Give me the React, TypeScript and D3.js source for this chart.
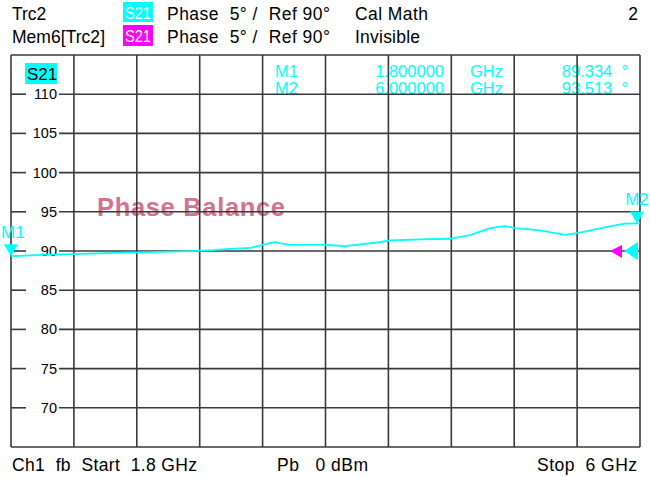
import React from 'react';
import * as d3 from 'd3';

// trace values (S21 phase, Cal Math)
const freqGHz = [1.8, 1.9, 2.0, 2.2, 2.5, 2.8, 3.0, 3.15, 3.26, 3.4, 3.48, 3.56, 3.66, 3.9, 4.03, 4.23, 4.33, 4.53, 4.73, 4.87, 5.0, 5.1, 5.17, 5.33, 5.5, 5.6, 5.77, 5.9, 6.0];
const phaseDeg = [89.334, 89.42, 89.5, 89.6, 89.75, 89.88, 89.98, 90.1, 90.28, 90.41, 90.79, 91.13, 90.79, 90.79, 90.61, 91.05, 91.34, 91.47, 91.56, 92.07, 92.92, 93.17, 92.92, 92.62, 92.07, 92.33, 93.04, 93.48, 93.513];
const yTickLabels = [110, 105, 100, 95, 90, 85, 80, 75, 70];
const markers = [
  { name: 'M1', f: 1.8, v: 89.334, fText: '1.800000', vText: '89.334  °' },
  { name: 'M2', f: 6.0, v: 93.513, fText: '6.000000', vText: '93.513  °' },
];
const refLevel = 90;

const App = () => {
  const width = 650, height = 477;
  const left = 11, right = 640, top = 55, bottom = 447;
  const font = '"Liberation Sans", Arial, sans-serif';
  const gridColor = '#3a3a3a';

  const x = d3.scaleLinear().domain([1.8, 6.0]).range([left, right]);
  const y = d3.scaleLinear().domain([65, 115]).range([bottom, top]);

  const xGrid = d3.range(11).map(i => 1.8 + i * 0.42);
  const yGrid = d3.range(11).map(i => 65 + i * 5);

  const data = freqGHz.map((f, i) => ({ f, v: phaseDeg[i] }));
  const line = d3.line<{ f: number, v: number }>().x(d => x(d.f)).y(d => y(d.v));

  const ry = y(refLevel);

  return (<svg width={width} height={height} style={{ position: 'absolute', left: 0, top: 0, background: '#fff' }} fontFamily={font}>
    <rect x={0} y={0} width={width} height={height} fill="#fff" />
    {/* header */}
    <g fontSize="17.5" fill="#000">
      <text x={12} y={20}>Trc2</text>
      <rect x={123} y={2} width={30} height={20} fill="#00ffff" />
      <text x={125} y={19} fill="#fff" fontSize="16" textLength={26} lengthAdjust="spacingAndGlyphs">S21</text>
      <text x={167} y={20} xmlSpace="preserve" textLength={163}>Phase  5° /  Ref 90°</text>
      <text x={355} y={20} textLength={73}>Cal Math</text>
      <text x={638} y={20} textAnchor="end">2</text>
      <text x={12} y={43} textLength={93}>Mem6[Trc2]</text>
      <rect x={123} y={25} width={30} height={21} fill="#ff00ff" />
      <text x={125} y={42} fill="#fff" fontSize="16" textLength={26} lengthAdjust="spacingAndGlyphs">S21</text>
      <text x={167} y={43} xmlSpace="preserve" textLength={163}>Phase  5° /  Ref 90°</text>
      <text x={355} y={43} textLength={65}>Invisible</text>
    </g>

    {/* marker info */}
    <g fontSize="16.5" fill="#00ffff">
      {markers.map((m, i) => (
        <g key={m.name}>
          <text x={275} y={77 + i * 17}>{m.name}</text>
          <text x={444} y={77 + i * 17} textAnchor="end">{m.fText}</text>
          <text x={470} y={77 + i * 17}>GHz</text>
          <text x={628} y={77 + i * 17} textAnchor="end" xmlSpace="preserve">{m.vText}</text>
        </g>
      ))}
    </g>

    <text x={97} y={216} fontSize="25.5" fontWeight="bold" fill="#d4738f" textLength={188}>Phase Balance</text>

    {/* grid */}
    <g stroke={gridColor} strokeWidth="1.6" fill="none">
      {xGrid.map((f, i) => <line key={i} x1={x(f)} x2={x(f)} y1={top} y2={bottom} />)}
      {yGrid.map((v, i) => {
        const labelled = yTickLabels.indexOf(v) >= 0;
        return labelled
          ? <g key={i}>
            <line x1={left} x2={26} y1={y(v)} y2={y(v)} />
            <line x1={59} x2={right} y1={y(v)} y2={y(v)} />
          </g>
          : <line key={i} x1={left} x2={right} y1={y(v)} y2={y(v)} />;
      })}
    </g>
    <g fontSize="14.5" fill="#000" textAnchor="end">
      {yTickLabels.map(v => <text key={v} x={57} y={y(v) + 5}>{v}</text>)}
    </g>

    <rect x={25} y={63} width={32} height={21} fill="#00ffff" />
    <text x={27} y={80} fontSize="17" fill="#000">S21</text>

    {/* trace */}
    <path d={line(data) || ''} fill="none" stroke="#00ffff" strokeWidth="1.8" />

    {/* markers */}
    {markers.map((m, i) => {
      const mx = i === 0 ? x(m.f) : x(m.f) - 3;
      const my = y(m.v);
      return <g key={m.name}>
        <path d={`M${mx - 7},${my - 12}L${mx + 7},${my - 12}L${mx},${my}Z`} fill="#00ffff" />
        <text x={i === 0 ? 1 : mx} y={my - 18} fontSize="17" fill="#00ffff" textAnchor={i === 0 ? 'start' : 'middle'}>{m.name}</text>
      </g>;
    })}

    {/* reference level arrows */}
    <path d={`M${right - 2},${ry - 9}L${right - 2},${ry + 9}L${right - 16},${ry}Z`} fill="#00ffff" />
    <path d={`M${right - 18},${ry - 6}L${right - 18},${ry + 7}L${right - 30},${ry}Z`} fill="#ff00ff" />

    {/* footer */}
    <g fontSize="17.5" fill="#000">
      <text x={12} y={471} xmlSpace="preserve" textLength={185}>Ch1  fb  Start  1.8 GHz</text>
      <text x={277} y={471} xmlSpace="preserve" textLength={91}>Pb   0 dBm</text>
      <text x={637} y={471} textAnchor="end" xmlSpace="preserve" textLength={100}>Stop  6 GHz</text>
    </g>
  </svg>);
};

export default App;
